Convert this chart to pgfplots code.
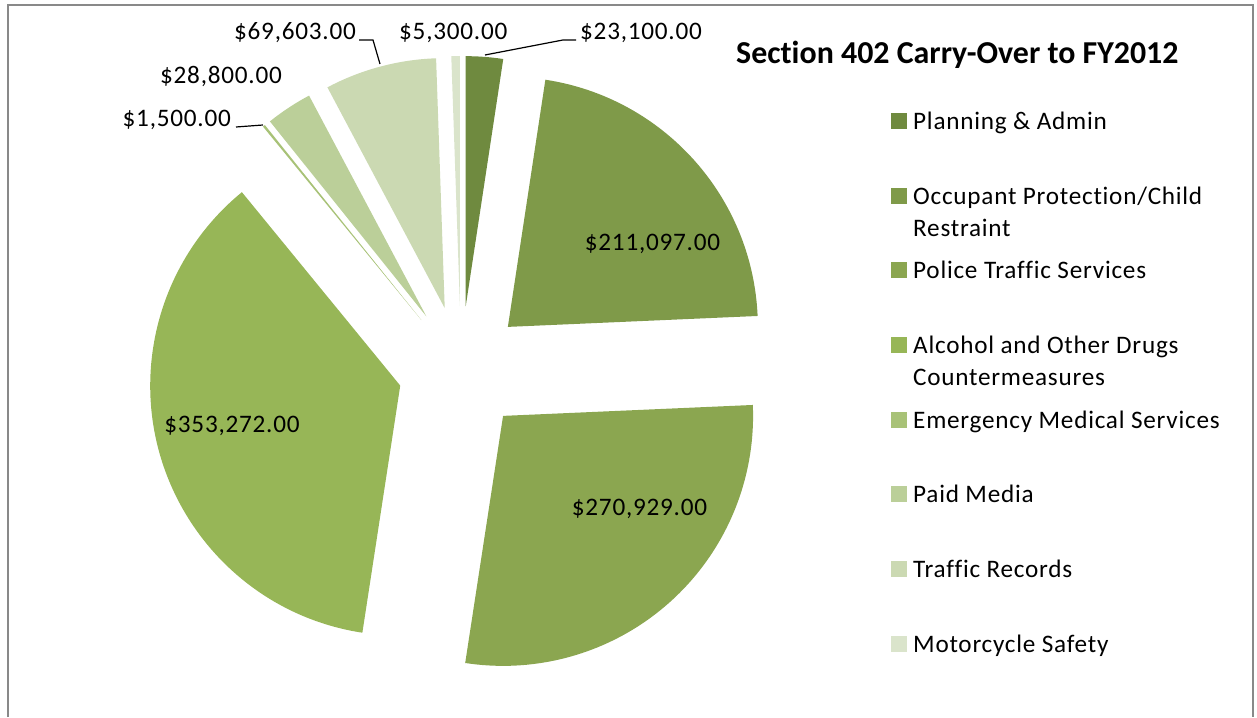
\documentclass[border=0pt]{standalone}
\usepackage{pgfplots}
\pgfplotsset{compat=1.18}
\usepackage{fontspec}
\setmainfont{Carlito}[Ligatures=NoCommon]
\newfontfamily\lblfont{Carlito}[LetterSpace=3.0, Ligatures=NoCommon]
\definecolor{cA}{HTML}{6F8A3F}
\definecolor{cB}{HTML}{7F9A49}
\definecolor{cC}{HTML}{8BA650}
\definecolor{cD}{HTML}{97B657}
\definecolor{cE}{HTML}{A8C277}
\definecolor{cF}{HTML}{BBCF99}
\definecolor{cG}{HTML}{CBD9B2}
\definecolor{cH}{HTML}{DAE4CB}
\definecolor{frame}{HTML}{898989}
% pie geometry (axis units = 1pt = 1px of the reference)
\newcommand\total{963601}
\newcommand\cx{461}
\newcommand\cy{348}
\newcommand\R{250}
\newcommand\ex{63}
\newcommand\cum{0}
\newcommand\slice[2]{%
  \edef\sA{\fpeval{90-360*\cum/\total}}%
  \xdef\cum{\fpeval{\cum+#1}}%
  \edef\sB{\fpeval{90-360*\cum/\total}}%
  \edef\sM{\fpeval{(\sA+\sB)/2}}%
  \edef\temp{\noexpand\fill[#2] (axis cs:\cx,\cy) ++(\sM:\ex pt) -- ++(\sA:\R pt) arc[start angle=\sA, end angle=\sB, radius=\R pt] -- cycle;}%
  \temp}
\newcommand\lbl{\lblfont\fontsize{25.2}{30}\selectfont}
\newcommand\legsq[2]{\fill[#1] (axis cs:891,#2-8) rectangle (axis cs:907,#2+8);}
\begin{document}
\begin{tikzpicture}
\begin{axis}[x=1pt, y=1pt, xmin=0, xmax=1257, ymin=0, ymax=717,
  hide axis, clip=false, anchor=south west, at={(0,0)}]
\gdef\cum{0}
% values (clockwise from 12 o'clock)
\slice{23100}{cA}   % Planning & Admin
\slice{211097}{cB}  % Occupant Protection/Child Restraint
\slice{270929}{cC}  % Police Traffic Services
\slice{353272}{cD}  % Alcohol and Other Drugs Countermeasures
\slice{1500}{cE}    % Emergency Medical Services
\slice{28800}{cF}   % Paid Media
\slice{69603}{cG}   % Traffic Records
\slice{5300}{cH}    % Motorcycle Safety
% frame
\draw[frame, line width=2pt] (axis cs:7.5,0) -- (axis cs:7.5,712) -- (axis cs:1253,712) -- (axis cs:1253,0);
% data labels
\node[anchor=base, inner sep=0, font=\lbl] at (axis cs:652.5,466) {\$211,097.00};
\node[anchor=base, inner sep=0, font=\lbl] at (axis cs:639.5,201) {\$270,929.00};
\node[anchor=base, inner sep=0, font=\lbl] at (axis cs:232,284) {\$353,272.00};
\node[anchor=base west, inner sep=0, font=\lbl] at (axis cs:580,677) {\$23,100.00};
\node[anchor=base west, inner sep=0, font=\lbl] at (axis cs:399,677) {\$5,300.00};
\node[anchor=base east, inner sep=0, font=\lbl] at (axis cs:356,677) {\$69,603.00};
\node[anchor=base east, inner sep=0, font=\lbl] at (axis cs:282,633) {\$28,800.00};
\node[anchor=base east, inner sep=0, font=\lbl] at (axis cs:231,590) {\$1,500.00};
% leader lines
\draw[black, line width=1.2pt] (axis cs:485,662) -- (axis cs:563,677) -- (axis cs:576,677);
\draw[black, line width=1.2pt] (axis cs:359,677) -- (axis cs:373,677) -- (axis cs:380,653);
\draw[black, line width=1.2pt] (axis cs:236,590) -- (axis cs:263,592);
% title
\node[anchor=base west, inner sep=0, font=\fontsize{31.9}{36}\selectfont\bfseries] at (axis cs:736,653) {Section 402 Carry-Over to FY2012};
% legend
\legsq{cA}{596}\legsq{cB}{521}\legsq{cC}{447}\legsq{cD}{372}
\legsq{cE}{297}\legsq{cF}{223}\legsq{cG}{148}\legsq{cH}{73}
\node[anchor=base west, inner sep=0, font=\lbl] at (axis cs:913,587.5) {Planning \& Admin};
\node[anchor=base west, inner sep=0, font=\lbl] at (axis cs:913,512.5) {Occupant Protection/Child};
\node[anchor=base west, inner sep=0, font=\lbl] at (axis cs:913,480.5) {Restraint};
\node[anchor=base west, inner sep=0, font=\lbl] at (axis cs:913,438.5) {Police Traffic Services};
\node[anchor=base west, inner sep=0, font=\lbl] at (axis cs:913,363.5) {Alcohol and Other Drugs};
\node[anchor=base west, inner sep=0, font=\lbl] at (axis cs:913,331.5) {Countermeasures};
\node[anchor=base west, inner sep=0, font=\lbl] at (axis cs:913,288.5) {Emergency Medical Services};
\node[anchor=base west, inner sep=0, font=\lbl] at (axis cs:913,214.5) {Paid Media};
\node[anchor=base west, inner sep=0, font=\lbl] at (axis cs:913,139.5) {Traffic Records};
\node[anchor=base west, inner sep=0, font=\lbl] at (axis cs:913,64.5) {Motorcycle Safety};
\end{axis}
\pgfresetboundingbox
\path (0,0) rectangle (1257pt,717pt);
\end{tikzpicture}
\end{document}
